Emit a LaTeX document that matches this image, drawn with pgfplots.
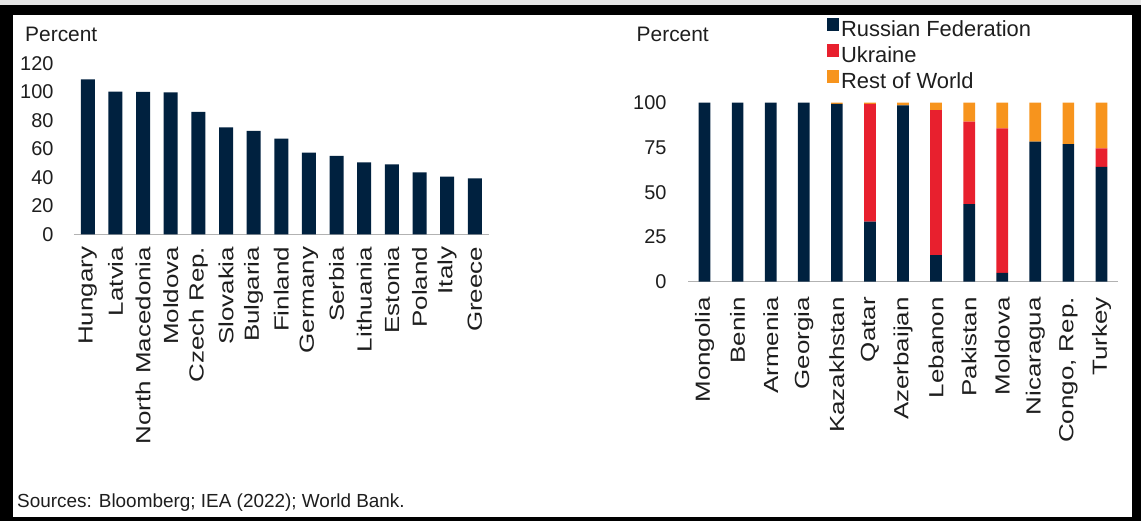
\documentclass[border=0pt]{standalone}
\usepackage{pgfplots}
\pgfplotsset{compat=1.18}
\usepackage{fontspec}
\setmainfont{Liberation Sans}
\usepackage{graphicx}
\definecolor{navy}{HTML}{00213F}
\definecolor{ukr}{HTML}{E8202E}
\definecolor{rowc}{HTML}{F7941D}
\definecolor{txt}{HTML}{1E1E1E}
\newcommand{\sx}[1]{\scalebox{1.27}[1]{#1}}
\begin{document}
\begin{tikzpicture}
\fill[gray!20] (0bp,0bp) rectangle (1141bp,-5bp);
\fill[black] (0bp,-5bp) rectangle (1141bp,-521bp);
\fill[white] (13bp,-15bp) rectangle (1132bp,-517bp);
\begin{axis}[
  at={(74bp,-234.3bp)}, anchor=south west,
  scale only axis, width=414.6bp, height=171bp,
  xmin=-0.5, xmax=14.5, ymin=0, ymax=120,
  axis lines*=left, y axis line style={draw=none},
  x axis line style={draw=gray!60, line width=1.5bp},
  xtick={0,...,14},
  xticklabels={\sx{Hungary},\sx{Latvia},\sx{North Macedonia},\sx{Moldova},\sx{Czech Rep.},\sx{Slovakia},\sx{Bulgaria},\sx{Finland},\sx{Germany},\sx{Serbia},\sx{Lithuania},\sx{Estonia},\sx{Poland},\sx{Italy},\sx{Greece}},
  ytick={0,20,...,120},
  major tick length=0pt,
  /pgf/number format/assume math mode=true,
  yticklabel style={font=\fontsize{20}{20}\selectfont, text=txt},
  yticklabel shift=17bp,
  xticklabel style={font=\fontsize{20.5}{20.5}\selectfont, text=txt, rotate=90, anchor=east},
  xticklabel shift=9bp,
  ybar, bar width=14bp,
  clip=false,
]
\addplot[fill=navy, draw=none] coordinates {
(0,108.8) (1,100.1) (2,100) (3,99.6) (4,86) (5,75) (6,72.5) (7,67.1) (8,57.3) (9,55) (10,50.5) (11,49.1) (12,43.5) (13,40.5) (14,39.3)};
\end{axis}
\begin{axis}[
  at={(688bp,-281.7bp)}, anchor=south west,
  scale only axis, width=430bp, height=179bp,
  xmin=-0.5, xmax=12.5, ymin=0, ymax=100,
  axis lines*=left, y axis line style={draw=none},
  x axis line style={draw=gray!60, line width=1.5bp},
  xtick={0,...,12},
  xticklabels={\sx{Mongolia},\sx{Benin},\sx{Armenia},\sx{Georgia},\sx{Kazakhstan},\sx{Qatar},\sx{Azerbaijan},\sx{Lebanon},\sx{Pakistan},\sx{Moldova},\sx{Nicaragua},\sx{Congo, Rep.},\sx{Turkey}},
  ytick={0,25,...,100},
  major tick length=0pt,
  /pgf/number format/assume math mode=true,
  yticklabel style={font=\fontsize{20}{20}\selectfont, text=txt},
  yticklabel shift=18bp,
  xticklabel style={font=\fontsize{20.5}{20.5}\selectfont, text=txt, rotate=90, anchor=east},
  xticklabel shift=12bp,
  ybar stacked, bar width=11.7bp,
  clip=false,
  legend style={at={(0.323,1.475)}, anchor=north west, draw=none, fill=none,
    inner sep=0pt, row sep=0pt,
    font=\fontsize{22}{22}\selectfont, text=txt,
    nodes={text height=17bp, text depth=5bp, inner sep=2bp}},
  legend cell align=left,
  legend image code/.code={\fill[#1] (0bp,0bp) rectangle (12bp,12.5bp);},
]
\addplot[fill=navy, draw=none] coordinates {
(0,100) (1,100) (2,100) (3,100) (4,99.3) (5,33.5) (6,98.5) (7,14.9) (8,43.4) (9,5) (10,78.2) (11,76.9) (12,64.2)};
\addplot[fill=ukr, draw=none] coordinates {
(0,0) (1,0) (2,0) (3,0) (4,0) (5,65.8) (6,0) (7,81) (8,46) (9,80.7) (10,0) (11,0) (12,10.3)};
\addplot[fill=rowc, draw=none] coordinates {
(0,0) (1,0) (2,0) (3,0) (4,0.7) (5,0.7) (6,1.5) (7,4.1) (8,10.6) (9,14.3) (10,21.8) (11,23.1) (12,25.5)};
\legend{Russian Federation, Ukraine, Rest of World}
\end{axis}
\node[anchor=base west, inner sep=0pt, font=\fontsize{21}{21}\selectfont, text=txt] at (25bp,-41.5bp) {Percent};
\node[anchor=base west, inner sep=0pt, font=\fontsize{21}{21}\selectfont, text=txt] at (636.5bp,-41.5bp) {Percent};
\node[anchor=base west, inner sep=0pt, font=\fontsize{19}{19}\selectfont, text=txt] at (17bp,-507bp) {Sources: Bloomberg; IEA (2022); World Bank.};
\end{tikzpicture}
\end{document}
